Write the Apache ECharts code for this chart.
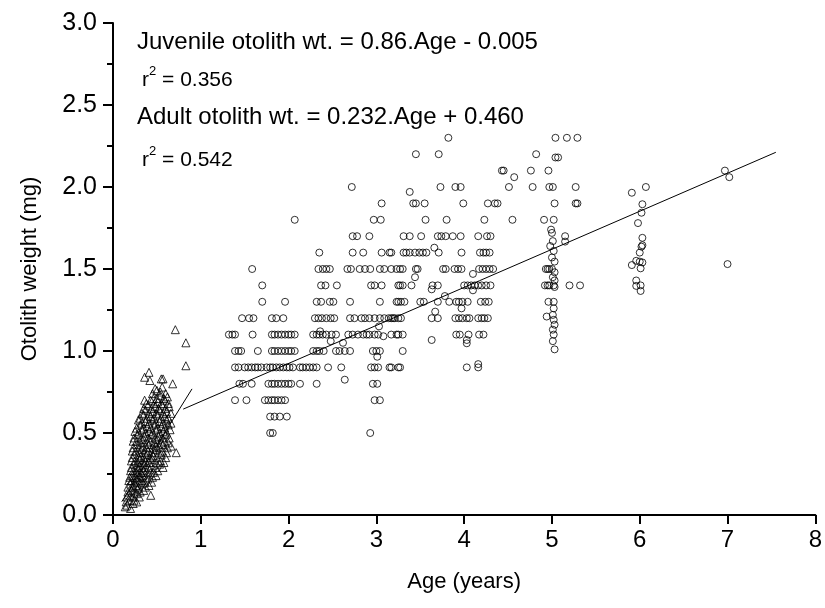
<!DOCTYPE html>
<html>
<head>
<meta charset="utf-8">
<script src="https://cdn.jsdelivr.net/npm/echarts@6/dist/echarts.min.js"></script>
<style>
  html, body { margin: 0; padding: 0; background: #fff; }
  #chart { width: 825px; height: 608px; }
</style>
</head>
<body>
<div id="chart"></div>
<script>
// Juvenile fish: [age (years), otolith weight (mg)]
const juvenilePoints = [
  [0.14,0.05],[0.20,0.04],[0.16,0.06],[0.23,0.07],
  [0.15,0.08],[0.19,0.09],[0.24,0.09],[0.27,0.08],
  [0.16,0.11],[0.20,0.12],[0.23,0.11],[0.27,0.13],[0.30,0.11],[0.43,0.12],
  [0.17,0.14],[0.21,0.15],[0.24,0.14],[0.28,0.16],[0.31,0.14],[0.35,0.15],
  [0.17,0.17],[0.20,0.19],[0.23,0.17],[0.26,0.18],[0.29,0.17],[0.33,0.19],[0.37,0.17],[0.41,0.18],
  [0.18,0.21],[0.21,0.21],[0.24,0.20],[0.27,0.22],[0.30,0.20],[0.33,0.21],[0.36,0.20],[0.40,0.22],[0.44,0.20],
  [0.19,0.23],[0.22,0.24],[0.25,0.23],[0.28,0.25],[0.31,0.23],[0.34,0.24],[0.37,0.23],[0.41,0.25],[0.45,0.23],[0.49,0.24],
  [0.20,0.27],[0.23,0.27],[0.26,0.26],[0.29,0.28],[0.32,0.26],[0.35,0.27],[0.38,0.26],[0.42,0.28],[0.46,0.26],[0.51,0.27],
  [0.21,0.29],[0.24,0.31],[0.27,0.29],[0.30,0.30],[0.33,0.29],[0.36,0.31],[0.40,0.29],[0.44,0.30],[0.48,0.29],[0.53,0.31],[0.57,0.29],
  [0.21,0.33],[0.25,0.33],[0.28,0.32],[0.31,0.34],[0.34,0.32],[0.37,0.33],[0.41,0.32],[0.45,0.34],[0.49,0.32],[0.54,0.33],[0.58,0.32],
  [0.22,0.35],[0.25,0.37],[0.29,0.35],[0.32,0.36],[0.35,0.35],[0.39,0.37],[0.42,0.35],[0.46,0.36],[0.50,0.35],[0.55,0.37],[0.60,0.35],
  [0.22,0.39],[0.26,0.39],[0.30,0.38],[0.33,0.40],[0.36,0.38],[0.40,0.39],[0.44,0.38],[0.48,0.40],[0.52,0.38],[0.56,0.39],[0.61,0.38],[0.72,0.38],
  [0.23,0.41],[0.27,0.43],[0.30,0.41],[0.34,0.42],[0.38,0.41],[0.41,0.43],[0.45,0.41],[0.49,0.42],[0.53,0.41],[0.57,0.43],[0.62,0.41],[0.66,0.42],
  [0.23,0.45],[0.27,0.45],[0.31,0.44],[0.35,0.46],[0.39,0.44],[0.43,0.45],[0.47,0.44],[0.51,0.46],[0.55,0.44],[0.59,0.45],[0.63,0.44],
  [0.24,0.47],[0.28,0.49],[0.32,0.47],[0.36,0.48],[0.40,0.47],[0.44,0.49],[0.48,0.47],[0.52,0.48],[0.56,0.47],[0.60,0.49],[0.64,0.47],
  [0.25,0.51],[0.29,0.50],[0.33,0.52],[0.37,0.50],[0.41,0.51],[0.45,0.50],[0.49,0.52],[0.53,0.50],[0.57,0.51],[0.61,0.50],[0.65,0.52],
  [0.27,0.53],[0.31,0.55],[0.35,0.53],[0.39,0.54],[0.43,0.53],[0.47,0.55],[0.51,0.53],[0.55,0.54],[0.59,0.53],[0.63,0.55],
  [0.29,0.58],[0.33,0.56],[0.37,0.57],[0.41,0.56],[0.45,0.58],[0.49,0.56],[0.53,0.57],[0.57,0.56],[0.61,0.58],[0.66,0.56],
  [0.31,0.59],[0.35,0.61],[0.39,0.59],[0.43,0.60],[0.47,0.59],[0.51,0.61],[0.55,0.59],[0.59,0.60],[0.63,0.59],
  [0.33,0.62],[0.37,0.64],[0.41,0.62],[0.45,0.63],[0.49,0.62],[0.53,0.64],[0.57,0.62],[0.61,0.63],[0.66,0.62],
  [0.35,0.65],[0.40,0.67],[0.44,0.65],[0.48,0.66],[0.52,0.65],[0.56,0.67],[0.60,0.65],[0.64,0.66],
  [0.38,0.68],[0.43,0.70],[0.47,0.68],[0.51,0.69],[0.55,0.68],[0.59,0.70],[0.63,0.68],
  [0.36,0.70],[0.46,0.71],[0.50,0.71],[0.54,0.73],[0.58,0.71],[0.62,0.72],
  [0.45,0.74],[0.50,0.76],[0.54,0.75],[0.60,0.74],
  [0.48,0.77],[0.56,0.78],[0.68,0.80],
  [0.41,0.87],[0.36,0.84],[0.42,0.82],[0.55,0.83],[0.57,0.83],
  [0.71,1.13],[0.83,1.05],[0.83,0.91]
];

// Adult fish, ages 1 to 2 years
const adultGroup1 = [
  [1.32,1.1],[2.07,1.8],
  [1.585,1.5],[1.70,1.4],[1.70,1.3],[1.96,1.3],
  [1.47,1.2],[1.55,1.2],[1.60,1.2],[1.81,1.2],[1.86,1.2],[1.94,1.2],
  [1.36,1.1],[1.39,1.1],[1.59,1.1],[1.81,1.1],[1.84,1.1],[1.88,1.1],[1.92,1.1],[1.96,1.1],[2.00,1.1],[2.03,1.1],[2.07,1.1],
  [1.39,1.0],[1.43,1.0],[1.46,1.0],[1.65,1.0],[1.81,1.0],[1.84,1.0],[1.88,1.0],[1.92,1.0],[1.96,1.0],[2.00,1.0],[2.03,1.0],[2.07,1.0],
  [1.39,0.9],[1.43,0.9],[1.50,0.9],[1.54,0.9],[1.58,0.9],[1.62,0.9],[1.65,0.9],[1.69,0.9],[1.75,0.9],[1.79,0.9],[1.82,0.9],
  [1.86,0.9],[1.90,0.9],[1.94,0.9],[1.98,0.9],[2.01,0.9],[2.05,0.9],[2.13,0.9],[2.16,0.9],[2.20,0.9],
  [1.44,0.8],[1.48,0.8],[1.58,0.8],[1.77,0.8],[1.81,0.8],[1.84,0.8],[1.88,0.8],[1.92,0.8],[1.96,0.8],[2.00,0.8],[2.03,0.8],[2.13,0.8],
  [1.39,0.7],[1.52,0.7],[1.73,0.7],[1.77,0.7],[1.81,0.7],[1.84,0.7],[1.88,0.7],[1.92,0.7],[1.96,0.7],
  [1.79,0.6],[1.84,0.6],[1.90,0.6],[1.98,0.6],
  [1.79,0.5],[1.82,0.5]
];

// Adult fish, ages 2 to 3 years
const adultGroup2 = [
  [2.72,2.0],[3.06,1.9],[2.97,1.8],[3.05,1.8],
  [2.73,1.7],[2.78,1.7],[2.92,1.7],
  [2.35,1.6],[2.73,1.6],[2.85,1.6],[3.06,1.6],[3.15,1.6],
  [2.34,1.5],[2.39,1.5],[2.43,1.5],[2.47,1.5],[2.67,1.5],[2.71,1.5],[2.81,1.5],[2.87,1.5],[2.93,1.5],[3.04,1.5],[3.09,1.5],[3.23,1.5],
  [2.37,1.4],[2.42,1.4],[2.55,1.4],[2.94,1.4],[2.98,1.4],[3.06,1.4],[3.25,1.4],
  [2.32,1.3],[2.37,1.3],[2.47,1.3],[2.51,1.3],[2.70,1.3],[3.04,1.3],[3.23,1.3],
  [2.30,1.2],[2.34,1.2],[2.38,1.2],[2.43,1.2],[2.48,1.2],[2.52,1.2],[2.70,1.2],[2.75,1.2],[2.83,1.2],[2.87,1.2],
  [2.92,1.2],[2.98,1.2],[3.04,1.2],[3.09,1.2],[3.14,1.2],[3.19,1.2],
  [2.28,1.1],[2.32,1.1],[2.35,1.1],[2.39,1.1],[2.43,1.1],[2.49,1.1],[2.54,1.1],[2.68,1.1],[2.73,1.1],[2.79,1.1],
  [2.85,1.1],[2.89,1.1],[2.92,1.1],[2.98,1.1],[3.02,1.1],[3.23,1.1],
  [2.36,1.12],[2.48,1.06],[2.62,1.05],[3.08,1.09],[3.03,1.15],
  [2.28,1.0],[2.32,1.0],[2.35,1.0],[2.40,1.0],[2.54,1.0],[2.58,1.0],[2.64,1.0],[2.70,1.0],[2.96,1.0],[3.00,1.0],[3.04,1.0],[3.01,0.965],
  [2.24,0.9],[2.28,0.9],[2.32,0.9],[2.45,0.9],[2.60,0.9],[2.94,0.9],[2.98,0.9],[3.02,0.9],[3.15,0.9],[3.25,0.9],
  [2.32,0.8],[2.96,0.8],[3.01,0.8],[2.64,0.825],
  [2.98,0.7],[3.04,0.7],
  [2.93,0.5]
];

// Adult fish, ages 3 to 4 years
const adultGroup3 = [
  [3.82,2.3],[3.45,2.2],[3.71,2.2],
  [3.73,2.0],[3.90,2.0],[3.96,2.0],[3.38,1.97],
  [3.42,1.9],[3.45,1.9],[3.55,1.9],[3.99,1.9],[4.27,1.9],
  [3.56,1.8],[3.80,1.8],[4.23,1.8],
  [3.31,1.7],[3.38,1.7],[3.51,1.7],[3.70,1.7],[3.74,1.7],[3.79,1.7],[3.87,1.7],[3.96,1.7],[4.16,1.7],[4.26,1.7],[4.30,1.7],
  [3.17,1.6],[3.31,1.6],[3.34,1.6],[3.38,1.6],[3.44,1.6],[3.49,1.6],[3.53,1.6],[3.57,1.6],[3.66,1.63],[3.71,1.6],
  [3.97,1.6],[4.18,1.6],[4.22,1.6],[4.25,1.6],[4.29,1.6],
  [3.17,1.5],[3.27,1.5],[3.30,1.5],[3.45,1.5],[3.47,1.5],[3.76,1.5],[3.79,1.5],[3.89,1.5],[3.93,1.5],[3.97,1.5],
  [4.17,1.5],[4.21,1.5],[4.25,1.5],[4.29,1.5],[4.33,1.5],[3.44,1.45],[4.10,1.47],
  [3.27,1.4],[3.30,1.4],[3.40,1.4],[3.64,1.4],[3.70,1.4],[4.00,1.4],[4.04,1.4],[4.08,1.4],[4.12,1.4],[4.16,1.4],
  [4.20,1.4],[4.25,1.4],[4.30,1.4],[3.63,1.376],[4.10,1.37],[3.78,1.335],
  [3.25,1.3],[3.28,1.3],[3.32,1.3],[3.50,1.3],[3.54,1.3],[3.70,1.3],[3.83,1.3],[3.91,1.3],[3.94,1.3],[3.98,1.3],
  [4.04,1.3],[4.19,1.3],[4.24,1.3],[4.28,1.3],[3.97,1.26],[3.67,1.24],
  [3.17,1.2],[3.21,1.2],[3.25,1.2],[3.28,1.2],[3.63,1.2],[3.70,1.2],[3.90,1.2],[3.94,1.2],[3.98,1.2],[4.03,1.2],
  [4.06,1.2],[4.16,1.2],[4.20,1.2],[4.23,1.2],[4.27,1.2],
  [3.17,1.1],[3.25,1.1],[3.30,1.1],[3.91,1.1],[3.95,1.1],[4.05,1.1],[4.17,1.1],[4.22,1.1],
  [3.63,1.067],[4.03,1.067],[4.03,1.047],
  [3.30,1.0],
  [3.17,0.9],[3.27,0.9],[4.03,0.9],[4.16,0.92],[4.16,0.90]
];

// Adult fish, ages 4 to 5 years
const adultGroup4 = [
  [5.04,2.3],[5.17,2.3],[5.29,2.3],
  [4.82,2.2],[5.04,2.18],[5.07,2.18],
  [4.43,2.1],[4.45,2.1],[4.76,2.1],[4.96,2.1],[4.57,2.06],
  [4.51,2.0],[4.78,2.0],[4.97,2.0],[5.01,2.0],[5.27,2.0],
  [4.35,1.9],[4.38,1.9],[5.03,1.9],[5.27,1.9],[5.29,1.9],
  [4.55,1.8],[4.91,1.8],[5.02,1.8],
  [4.99,1.74],[5.00,1.72],[5.01,1.67],[4.98,1.64],[5.02,1.61],[5.00,1.57],[5.03,1.545],
  [4.97,1.50],[5.00,1.50],[5.03,1.48],[5.01,1.45],[5.03,1.43],[4.97,1.40],[5.02,1.40],[5.03,1.39],
  [4.96,1.30],[5.02,1.30],[5.02,1.26],[5.01,1.22],[5.02,1.19],[5.03,1.16],[5.01,1.13],[5.02,1.10],[5.01,1.06],[5.03,1.01],
  [4.93,1.50],[4.95,1.50],[4.92,1.40],[4.95,1.40],[4.94,1.21],
  [5.15,1.70],[5.15,1.667],[5.20,1.40],[5.32,1.40]
];

// Adult fish, ages 6 and 7 years
const adultGroup5 = [
  [5.91,1.965],[6.07,2.0],[6.03,1.895],[6.02,1.843],[5.98,1.78],[6.03,1.69],[6.03,1.645],[6.02,1.636],
  [6.00,1.60],[5.91,1.524],[5.96,1.55],[6.00,1.545],[6.03,1.54],[6.01,1.504],
  [5.96,1.43],[6.01,1.40],[5.96,1.397],[6.01,1.366],
  [6.97,2.10],[7.02,2.06],[7.00,1.53]
];

// Fitted regressions: [slope, intercept] and the age range each line covers
const juvenileFit = [0.86, -0.005];
const juvenileFitRange = [0.1, 0.9];
const adultFit = [0.232, 0.460];
const adultFitRange = [0.8, 7.55];

const xTicks = [0, 8, 1];
const yTicks = [0, 3, 0.5];

function fitLine(coef, range) {
  return range.map(function (a) { return [a, coef[0] * a + coef[1]]; });
}

const FONT = 'Liberation Sans, Arial, sans-serif';
const adultData = [].concat(adultGroup1, adultGroup2, adultGroup3, adultGroup4, adultGroup5);

const chart = echarts.init(document.getElementById('chart'), null, { renderer: 'canvas' });

const openMark = { color: 'rgba(0,0,0,0)', borderColor: '#000', borderWidth: 1 };
const r2Rich = {
  b: { fontSize: 21, fontFamily: FONT, fill: '#000', verticalAlign: 'bottom', lineHeight: 26 },
  s: { fontSize: 13, fontFamily: FONT, fill: '#000', verticalAlign: 'top', lineHeight: 26 }
};

chart.setOption({
  animation: false,
  backgroundColor: '#fff',
  grid: { left: 113, right: 9, top: 23, bottom: 93, containLabel: false },
  xAxis: {
    type: 'value', min: xTicks[0], max: xTicks[1], interval: xTicks[2],
    name: 'Age (years)', nameLocation: 'middle', nameGap: 56,
    nameTextStyle: { color: '#000', fontSize: 22, fontFamily: FONT },
    axisLine: { lineStyle: { color: '#000', width: 2 } },
    axisTick: { inside: false, length: 9, lineStyle: { color: '#000', width: 2 } },
    axisLabel: { color: '#000', fontSize: 24, fontFamily: FONT, margin: 13 },
    splitLine: { show: false }
  },
  yAxis: {
    type: 'value', min: yTicks[0], max: yTicks[1], interval: yTicks[2],
    name: 'Otolith weight (mg)', nameLocation: 'middle', nameGap: 72, nameRotate: 90,
    nameTextStyle: { color: '#000', fontSize: 22, fontFamily: FONT },
    axisLine: { lineStyle: { color: '#000', width: 2 } },
    axisTick: { inside: false, length: 10, lineStyle: { color: '#000', width: 2 } },
    minorTick: { show: true, splitNumber: 2, length: 6, lineStyle: { color: '#000', width: 2 } },
    axisLabel: { color: '#000', fontSize: 25, fontFamily: FONT, margin: 16,
      formatter: function (v) { return v.toFixed(1); } },
    splitLine: { show: false }
  },
  series: [
    { type: 'scatter', data: juvenilePoints, symbol: 'triangle', symbolSize: 8, itemStyle: openMark, silent: true },
    { type: 'scatter', data: adultData, symbol: 'circle', symbolSize: 7, itemStyle: openMark, silent: true },
    { type: 'line', data: fitLine(juvenileFit, juvenileFitRange), showSymbol: false,
      lineStyle: { color: '#000', width: 1 }, silent: true },
    { type: 'line', data: fitLine(adultFit, adultFitRange), showSymbol: false,
      lineStyle: { color: '#000', width: 1 }, silent: true }
  ],
  graphic: [
    { type: 'text', left: 137, top: 30, style: { text: 'Juvenile otolith wt. = 0.86.Age - 0.005',
      fill: '#000', font: '24px ' + FONT } },
    { type: 'text', left: 142, top: 65, style: { text: '{b|r}{s|2}{b| = 0.356}', fill: '#000', rich: r2Rich } },
    { type: 'text', left: 137, top: 105, style: { text: 'Adult otolith wt. = 0.232.Age + 0.460',
      fill: '#000', font: '24px ' + FONT } },
    { type: 'text', left: 142, top: 145, style: { text: '{b|r}{s|2}{b| = 0.542}', fill: '#000', rich: r2Rich } }
  ]
});
</script>
</body>
</html>
